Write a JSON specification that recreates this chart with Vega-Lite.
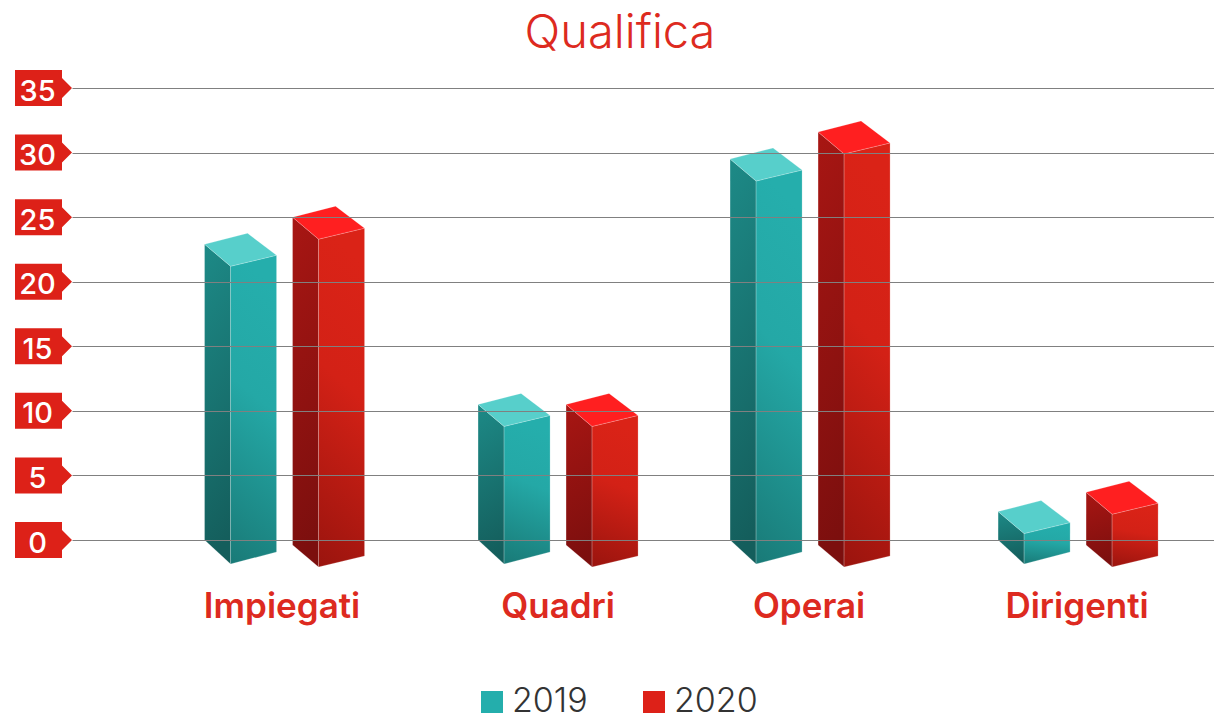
{
"$schema":"https://vega.github.io/schema/vega-lite/v6.json",
"width":1142,"height":452,
"autosize":"none",
"padding":{"left":72,"top":88,"right":0,"bottom":179},
"background":"white",
"params":[{"name":"shift","expr":"{Impiegati:-3.5,Quadri:7,Operai:-4,Dirigenti:1}"}],
"title":{"text":"Qualifica","font":"Inter","fontWeight":300,"fontSize":47,"color":"#dd2a20","anchor":"middle","frame":"group","dx":-23,"offset":12},
"config":{"view":{"stroke":null}},
"datasets":{
"bars":[
{"category":"Impiegati","year":"2019","value":22.9},
{"category":"Impiegati","year":"2020","value":25},
{"category":"Quadri","year":"2019","value":10.5},
{"category":"Quadri","year":"2020","value":10.5},
{"category":"Operai","year":"2019","value":29.5},
{"category":"Operai","year":"2020","value":31.6},
{"category":"Dirigenti","year":"2019","value":2.2},
{"category":"Dirigenti","year":"2020","value":3.7}
],
"ticks":[{"tick":0},{"tick":5},{"tick":10},{"tick":15},{"tick":20},{"tick":25},{"tick":30},{"tick":35}]
},
"layer":[
{"data":{"name":"ticks"},
 "mark":{"type":"point","filled":true,"opacity":1,"size":4,"color":"#dd2118","strokeWidth":0,"shape":"M-57 -18 L-10 -18 L-10 -10 L0 0 L-10 10 L-10 18 L-57 18 Z"},
 "encoding":{"x":{"value":0},
  "y":{"field":"tick","type":"quantitative","scale":{"domain":[0,35],"nice":false},
   "axis":{"title":null,"values":[0,5,10,15,20,25,30,35],"grid":true,"gridColor":"#808080","gridWidth":1,"domain":false,"ticks":false,"zindex":1,"labelColor":"white","labelFont":"Inter","labelFontWeight":500,"labelFontSize":29,"labelAlign":"center","labelBaseline":"middle","labelPadding":35,"labelOffset":3,"labelFlush":false,"labelOverlap":false}}}},
{"data":{"name":"bars"},
 "encoding":{
  "x":{"field":"category","type":"nominal","sort":["Impiegati","Quadri","Operai","Dirigenti"],"scale":{"paddingInner":0,"paddingOuter":0.171,"align":0.94},
   "axis":{"title":null,"orient":"bottom","domain":false,"ticks":false,"labelAngle":0,"labelColor":"#dd2a20","labelFont":"Inter","labelFontWeight":600,"labelFontSize":35,"labelPadding":66,"labelBaseline":"middle","labelOffset":{"expr":"{Impiegati:-6,Quadri:7,Operai:-5,Dirigenti:0}[datum.label]"}}},
  "y":{"field":"value","type":"quantitative"}
 },
 "layer":[
 {"mark":{"type":"bar","width":44,"xOffset":{"expr":"shift[datum.category]+(datum.year=='2019'?-31:57)"},"yOffset":24,"y2Offset":10},
  "encoding":{"y":{"field":"value","type":"quantitative","stack":null},"y2":{"datum":0},
   "color":{"field":"year","type":"nominal","scale":{"domain":["2019","2020"],"range":["#24aeac","#dd2118"]},
   "legend":{"title":null,"orient":"none","legendX":403,"legendY":597,"direction":"horizontal","symbolType":"square","symbolSize":484,"symbolStrokeWidth":0,"symbolOpacity":1,"labelFont":"Inter","labelFontWeight":300,"labelFontSize":34,"labelColor":"#333333","columnPadding":49,"labelOffset":3}}}},
 {"transform":[{"filter":"datum.year=='2019'"}],"layer":[
  {"mark":{"type":"point","filled":true,"opacity":1,"size":4,"stroke":"#ffffff","strokeOpacity":0.25,"strokeWidth":0.8,"xOffset":{"expr":"shift[datum.category]-44"},
    "shape":{"expr":"'M-36 0 L-10 22 L-10 '+(scale('y',0)-scale('y',datum.value)+24)+' L-36 '+(scale('y',0)-scale('y',datum.value))+' Z'"},
    "fill":{"gradient":"linear","x1":0,"y1":0,"x2":0.1,"y2":1,"stops":[{"offset":0,"color":"#1d8a87"},{"offset":1,"color":"#145e5c"}]}}},
  {"mark":{"type":"point","filled":true,"opacity":1,"size":4,"stroke":"#ffffff","strokeOpacity":0.25,"strokeWidth":0.8,"xOffset":{"expr":"shift[datum.category]-44"},
    "shape":{"expr":"'M-10 22 L36 11 L36 '+(scale('y',0)-scale('y',datum.value)+12)+' L-10 '+(scale('y',0)-scale('y',datum.value)+24)+' Z'"},
    "fill":{"gradient":"linear","x1":0.12,"y1":0,"x2":0,"y2":1,"stops":[{"offset":0,"color":"#25aeac"},{"offset":0.4,"color":"#24a8a6"},{"offset":1,"color":"#197a77"}]}}},
  {"mark":{"type":"point","filled":true,"opacity":1,"size":4,"stroke":"#ffffff","strokeOpacity":0.25,"strokeWidth":0.8,"xOffset":{"expr":"shift[datum.category]-44"},"fill":"#57cfcb","shape":"M-36 0 L7 -11 L36 11 L-10 22 Z"}}
 ]},
 {"transform":[{"filter":"datum.year=='2020'"}],"layer":[
  {"mark":{"type":"point","filled":true,"opacity":1,"size":4,"stroke":"#ffffff","strokeOpacity":0.25,"strokeWidth":0.8,"xOffset":{"expr":"shift[datum.category]+44"},
    "shape":{"expr":"'M-36 0 L-10 22 L-10 '+(scale('y',0)-scale('y',datum.value)+27)+' L-36 '+(scale('y',0)-scale('y',datum.value)+5)+' Z'"},
    "fill":{"gradient":"linear","x1":0,"y1":0,"x2":0.1,"y2":1,"stops":[{"offset":0,"color":"#a81613"},{"offset":1,"color":"#7c0f0e"}]}}},
  {"mark":{"type":"point","filled":true,"opacity":1,"size":4,"stroke":"#ffffff","strokeOpacity":0.25,"strokeWidth":0.8,"xOffset":{"expr":"shift[datum.category]+44"},
    "shape":{"expr":"'M-10 22 L36 11 L36 '+(scale('y',0)-scale('y',datum.value)+16)+' L-10 '+(scale('y',0)-scale('y',datum.value)+27)+' Z'"},
    "fill":{"gradient":"linear","x1":0.12,"y1":0,"x2":0,"y2":1,"stops":[{"offset":0,"color":"#da2317"},{"offset":0.4,"color":"#d32116"},{"offset":1,"color":"#9a140e"}]}}},
  {"mark":{"type":"point","filled":true,"opacity":1,"size":4,"stroke":"#ffffff","strokeOpacity":0.25,"strokeWidth":0.8,"xOffset":{"expr":"shift[datum.category]+44"},"fill":"#ff1f20","shape":"M-36 0 L7 -11 L36 11 L-10 22 Z"}}
 ]}
 ]}
],
"resolve":{"scale":{"x":"shared"}}
}
